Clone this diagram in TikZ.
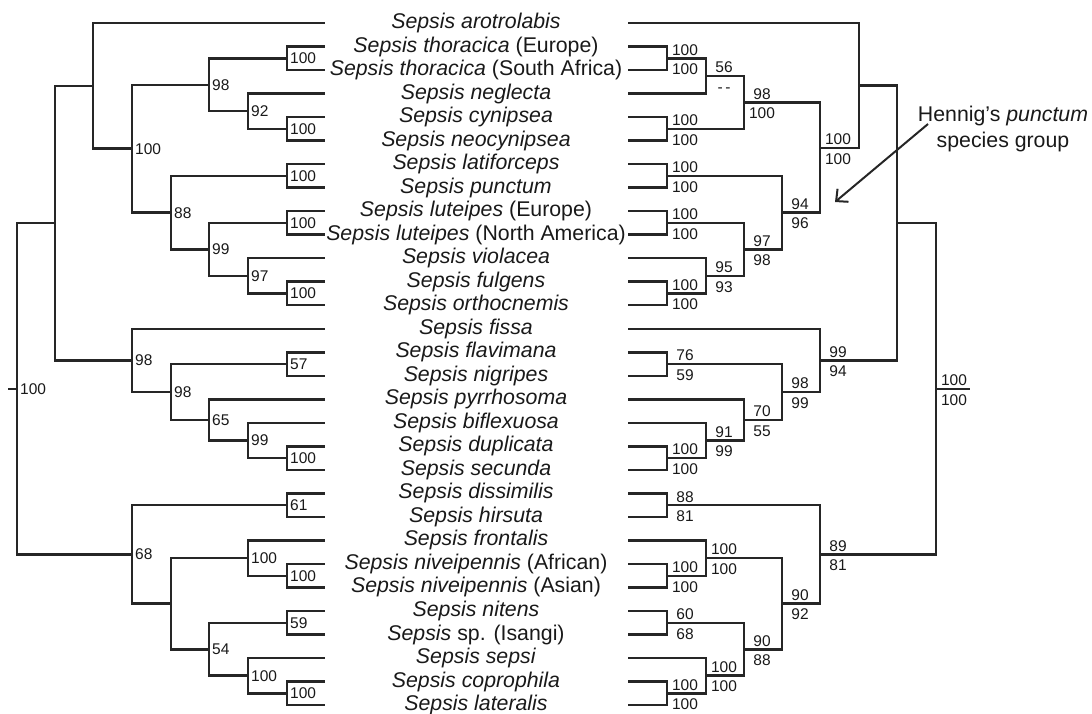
\documentclass[tikz,border=0pt]{standalone}
\usepackage{fontspec}
\setmainfont{Liberation Sans}
\usetikzlibrary{arrows.meta}

\begin{document}
\begin{tikzpicture}[
  x=1pt, y=-1pt,
  branch/.style={line width=2.5pt, draw=black!85, line join=miter},
  taxon/.style={font=\fontsize{21.3}{25.5}\selectfont, inner sep=0pt, text=black!90},
  lsup/.style={anchor=west, font=\fontsize{15.5}{18}\selectfont, inner sep=0pt, xshift=3pt, text=black!90},
  rup/.style={anchor=south, font=\fontsize{15.5}{18}\selectfont, inner sep=0pt, text height=11pt, text depth=0pt, xshift=18pt, yshift=3pt, text=black!90},
  rdown/.style={anchor=north, font=\fontsize{15.5}{18}\selectfont, inner sep=0pt, text height=11pt, text depth=0pt, xshift=18pt, yshift=-5pt, text=black!90},
  arrow/.style={-{Straight Barb[length=9pt,width=17pt]}, line width=2pt, draw=black!85}
]
  \useasboundingbox (0,0) rectangle (1092,713);

  \foreach \i in {0,...,29} {
    \coordinate (L\i) at (325,{23+23.52*\i});
    \coordinate (R\i) at (628,{23+23.52*\i});
  }

  \foreach \i/\name in {
    0/{\textit{Sepsis arotrolabis}},
    1/{\textit{Sepsis thoracica} (Europe)},
    2/{\textit{Sepsis thoracica} (South Africa)},
    3/{\textit{Sepsis neglecta}},
    4/{\textit{Sepsis cynipsea}},
    5/{\textit{Sepsis neocynipsea}},
    6/{\textit{Sepsis latiforceps}},
    7/{\textit{Sepsis punctum}},
    8/{\textit{Sepsis luteipes} (Europe)},
    9/{\textit{Sepsis luteipes} (North America)},
    10/{\textit{Sepsis violacea}},
    11/{\textit{Sepsis fulgens}},
    12/{\textit{Sepsis orthocnemis}},
    13/{\textit{Sepsis fissa}},
    14/{\textit{Sepsis flavimana}},
    15/{\textit{Sepsis nigripes}},
    16/{\textit{Sepsis pyrrhosoma}},
    17/{\textit{Sepsis biflexuosa}},
    18/{\textit{Sepsis duplicata}},
    19/{\textit{Sepsis secunda}},
    20/{\textit{Sepsis dissimilis}},
    21/{\textit{Sepsis hirsuta}},
    22/{\textit{Sepsis frontalis}},
    23/{\textit{Sepsis niveipennis} (African)},
    24/{\textit{Sepsis niveipennis} (Asian)},
    25/{\textit{Sepsis nitens}},
    26/{\textit{Sepsis} sp. (Isangi)},
    27/{\textit{Sepsis sepsi}},
    28/{\textit{Sepsis coprophila}},
    29/{\textit{Sepsis lateralis}}}
    \node[taxon] (t\i) at (476,{23+23.52*\i}) {\name};

  % left tree
  \coordinate (lp12) at (287,58.3);
  \coordinate (lp45) at (287,128.9);
  \coordinate (ln345) at (248,111.2);
  \coordinate (ln15) at (209,84.8);
  \coordinate (lp67) at (287,175.9);
  \coordinate (lp89) at (287,223);
  \coordinate (lp1112) at (287,293.5);
  \coordinate (ln1012) at (248,275.9);
  \coordinate (ln812) at (209,249.4);
  \coordinate (ln612) at (171,212.7);
  \coordinate (ln112) at (132,148.7);
  \coordinate (ln012) at (93,85.9);
  \coordinate (lp1415) at (287,364);
  \coordinate (lp1819) at (287,458.1);
  \coordinate (ln1719) at (248,440.5);
  \coordinate (ln1619) at (209,419.9);
  \coordinate (ln1419) at (171,392);
  \coordinate (ln1319) at (132,360.4);
  \coordinate (ln019) at (55,223.2);
  \coordinate (lp2021) at (287,505.2);
  \coordinate (lp2324) at (287,575.8);
  \coordinate (ln2224) at (248,558.1);
  \coordinate (lp2526) at (287,622.8);
  \coordinate (lp2829) at (287,693.3);
  \coordinate (ln2729) at (248,675.7);
  \coordinate (ln2529) at (209,649.3);
  \coordinate (ln2229) at (171,603.7);
  \coordinate (ln2029) at (132,554.5);
  \coordinate (lroot) at (17,388.9);
  \coordinate (lstub) at (8,388.9);

  \foreach \p/\c in {lp12/L1, lp12/L2, lp45/L4, lp45/L5, ln345/L3, ln345/lp45,
    ln15/lp12, ln15/ln345, lp67/L6, lp67/L7, lp89/L8, lp89/L9, lp1112/L11, lp1112/L12,
    ln1012/L10, ln1012/lp1112, ln812/lp89, ln812/ln1012, ln612/lp67, ln612/ln812,
    ln112/ln15, ln112/ln612, ln012/L0, ln012/ln112,
    lp1415/L14, lp1415/L15, lp1819/L18, lp1819/L19, ln1719/L17, ln1719/lp1819,
    ln1619/L16, ln1619/ln1719, ln1419/lp1415, ln1419/ln1619, ln1319/L13, ln1319/ln1419,
    ln019/ln012, ln019/ln1319,
    lp2021/L20, lp2021/L21, lp2324/L23, lp2324/L24, ln2224/L22, ln2224/lp2324,
    lp2526/L25, lp2526/L26, lp2829/L28, lp2829/L29, ln2729/L27, ln2729/lp2829,
    ln2529/lp2526, ln2529/ln2729, ln2229/ln2224, ln2229/ln2529,
    ln2029/lp2021, ln2029/ln2229, lroot/ln019, lroot/ln2029}
    \draw[branch] (\p) |- (\c);
  \draw[branch] (lstub) -- (lroot);

  \foreach \n/\v in {lp12/100, ln15/98, ln345/92, lp45/100, ln112/100, lp67/100,
    ln612/88, lp89/100, ln812/99, ln1012/97, lp1112/100, ln1319/98, ln1419/98,
    lp1415/57, ln1619/65, ln1719/99, lp1819/100, lp2021/61, ln2029/68, ln2224/100,
    lp2324/100, lp2526/59, ln2529/54, ln2729/100, lp2829/100, lroot/100}
    \node[lsup] (s\n) at (\n) {\v};

  % right tree
  \coordinate (rp12) at (667,58.3);
  \coordinate (rn13) at (706,76);
  \coordinate (rp45) at (667,128.9);
  \coordinate (rn15) at (744,102.4);
  \coordinate (rp67) at (667,175.9);
  \coordinate (rp89) at (667,223);
  \coordinate (rp1112) at (667,293.5);
  \coordinate (rn1012) at (706,275.9);
  \coordinate (rn812) at (744,249.4);
  \coordinate (rn612) at (782,212.7);
  \coordinate (rn112) at (820,148);
  \coordinate (rn012) at (859,85.5);
  \coordinate (rp1415) at (667,364);
  \coordinate (rp1819) at (667,458.1);
  \coordinate (rn1719) at (706,440.5);
  \coordinate (rn1619) at (744,419.9);
  \coordinate (rn1419) at (782,392);
  \coordinate (rn1319) at (820,360.4);
  \coordinate (rn019) at (897,223);
  \coordinate (rp2021) at (667,505.2);
  \coordinate (rp2324) at (667,575.8);
  \coordinate (rn2224) at (706,558.1);
  \coordinate (rp2526) at (667,622.8);
  \coordinate (rp2829) at (667,693.3);
  \coordinate (rn2729) at (706,675.7);
  \coordinate (rn2529) at (744,649.3);
  \coordinate (rn2229) at (782,603.7);
  \coordinate (rn2029) at (820,554.5);
  \coordinate (rroot) at (936,388.8);
  \coordinate (rstub) at (970,388.8);

  \foreach \p/\c in {rp12/R1, rp12/R2, rn13/rp12, rn13/R3, rp45/R4, rp45/R5,
    rn15/rn13, rn15/rp45, rp67/R6, rp67/R7, rp89/R8, rp89/R9, rp1112/R11, rp1112/R12,
    rn1012/R10, rn1012/rp1112, rn812/rp89, rn812/rn1012, rn612/rp67, rn612/rn812,
    rn112/rn15, rn112/rn612, rn012/R0, rn012/rn112,
    rp1415/R14, rp1415/R15, rp1819/R18, rp1819/R19, rn1719/R17, rn1719/rp1819,
    rn1619/R16, rn1619/rn1719, rn1419/rp1415, rn1419/rn1619, rn1319/R13, rn1319/rn1419,
    rn019/rn012, rn019/rn1319,
    rp2021/R20, rp2021/R21, rp2324/R23, rp2324/R24, rn2224/R22, rn2224/rp2324,
    rp2526/R25, rp2526/R26, rp2829/R28, rp2829/R29, rn2729/R27, rn2729/rp2829,
    rn2529/rp2526, rn2529/rn2729, rn2229/rn2224, rn2229/rn2529,
    rn2029/rp2021, rn2029/rn2229, rroot/rn019, rroot/rn2029}
    \draw[branch] (\p) |- (\c);
  \draw[branch] (rroot) -- (rstub);

  \foreach \n/\a/\b in {rp12/100/100, rn13/56/{-\,-}, rp45/100/100, rn15/98/100,
    rn112/100/100, rp67/100/100, rn612/94/96, rp89/100/100, rn812/97/98,
    rn1012/95/93, rp1112/100/100, rn1319/99/94, rp1415/76/59, rn1419/98/99,
    rn1619/70/55, rn1719/91/99, rp1819/100/100, rp2021/88/81, rn2029/89/81,
    rn2229/90/92, rn2224/100/100, rp2324/100/100, rn2529/90/88, rp2526/60/68,
    rn2729/100/100, rp2829/100/100, rroot/100/100} {
    \node[rup] (a\n) at (\n) {\a};
    \node[rdown] (b\n) at (\n) {\b};
  }

  \node[taxon, align=center] (hennig) at (1003,129) {Hennig’s \textit{punctum}\\species group};
  \coordinate (atail) at (928,124);
  \coordinate (ahead) at (835,202);
  \draw[arrow] (atail) -- (ahead);
\end{tikzpicture}
\end{document}
